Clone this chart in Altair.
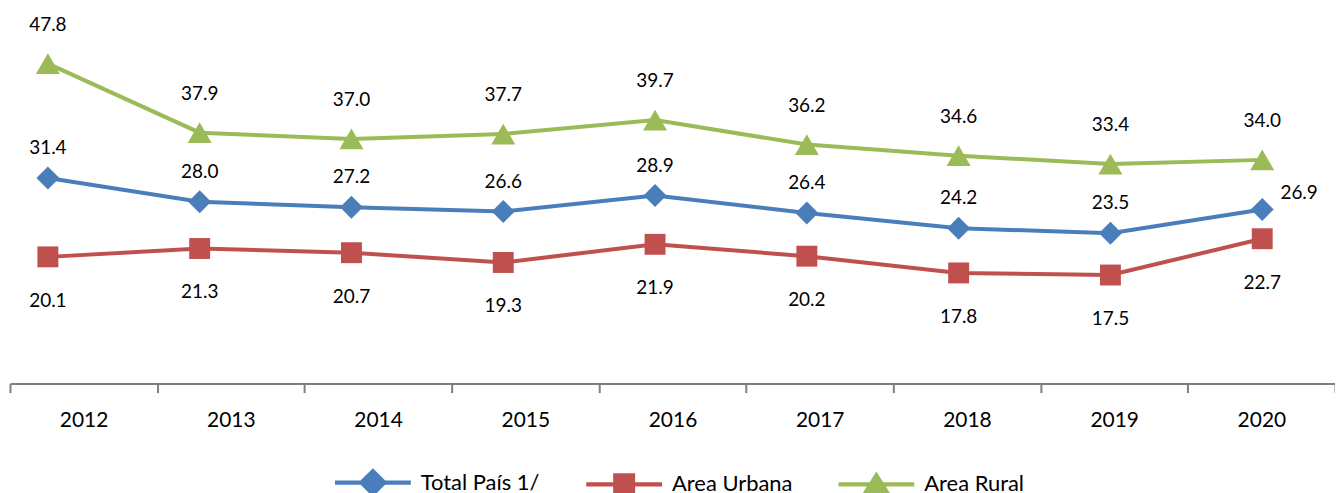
import altair as alt
import pandas as pd

years = ["2012", "2013", "2014", "2015", "2016", "2017", "2018", "2019", "2020"]
total = [31.4, 28.0, 27.2, 26.6, 28.9, 26.4, 24.2, 23.5, 26.9]
urbana = [20.1, 21.3, 20.7, 19.3, 21.9, 20.2, 17.8, 17.5, 22.7]
rural = [47.8, 37.9, 37.0, 37.7, 39.7, 36.2, 34.6, 33.4, 34.0]

series = ["Total País 1/", "Area Urbana", "Area Rural"]
colors = ["#4A7EBB", "#C0504D", "#9BBB59"]
shapes = ["diamond", "square", "triangle-up"]
legend_shapes = [
    "M-1,-0.055L1,-0.055L1,0.055L-1,0.055Z M0,-0.38L0.38,0L0,0.38L-0.38,0Z",
    "M-1,-0.055L1,-0.055L1,0.055L-1,0.055Z M-0.29,-0.29L0.29,-0.29L0.29,0.29L-0.29,0.29Z",
    "M-1,-0.055L1,-0.055L1,0.055L-1,0.055Z M0,-0.34L0.38,0.26L-0.38,0.26Z",
]

rows = []
for s, vals in zip(series, [total, urbana, rural]):
    for y, v in zip(years, vals):
        rows.append({"anio": y, "serie": s, "valor": v})
df = pd.DataFrame(rows)

base = alt.Chart(df)
FONT = "Lato"

x_pt = alt.X("anio:O", scale=alt.Scale(type="point", domain=years, range=[38, 1256], padding=0), axis=None)
y_enc = alt.Y("valor:Q", scale=alt.Scale(domain=[1.94, 55.37], nice=False, zero=False), axis=None)
color_enc = alt.Color("serie:N", scale=alt.Scale(domain=series, range=colors), legend=None)

axis_layer = base.transform_filter("datum.valor < -1000").mark_point(opacity=0).encode(
    x=alt.X("anio:O", scale=alt.Scale(type="band", domain=years, paddingInner=0, paddingOuter=0),
            axis=alt.Axis(title=None, labelAngle=0, tickBand="extent", domainColor="#7f7f7f",
                          tickColor="#7f7f7f", domainWidth=2, tickWidth=2, tickSize=9,
                          labelFont=FONT, labelFontSize=21, labelColor="#000000",
                          labelBaseline="middle", labelPadding=28, grid=False)),
    y=y_enc,
)

lines = base.mark_line(strokeWidth=4).encode(x=x_pt, y=y_enc, color=color_enc, detail="serie:N")

point_layers = []
for s, sh, sz in zip(series, shapes, [530, 440, 580]):
    point_layers.append(
        base.transform_filter(alt.datum.serie == s).mark_point(
            shape=sh, size=sz, filled=True, opacity=1, strokeWidth=0
        ).encode(x=x_pt, y=y_enc, color=color_enc)
    )

txt_kw = dict(font=FONT, fontSize=19, color="#000000", baseline="middle", align="center")
t_total = base.transform_filter((alt.datum.serie == series[0]) & (alt.datum.anio != "2020")).mark_text(dy=-30, **txt_kw).encode(
    x=x_pt, y=y_enc, text=alt.Text("valor:Q", format=".1f"))
t_total_last = base.transform_filter((alt.datum.serie == series[0]) & (alt.datum.anio == "2020")).mark_text(dx=37, dy=-16, **txt_kw).encode(
    x=x_pt, y=y_enc, text=alt.Text("valor:Q", format=".1f"))
t_urb = base.transform_filter(alt.datum.serie == series[1]).mark_text(dy=44, **txt_kw).encode(
    x=x_pt, y=y_enc, text=alt.Text("valor:Q", format=".1f"))
t_rur = base.transform_filter(alt.datum.serie == series[2]).mark_text(dy=-39, **txt_kw).encode(
    x=x_pt, y=y_enc, text=alt.Text("valor:Q", format=".1f"))

leg = alt.Legend(title=None, orient="none", legendX=326, legendY=435,
                 direction="horizontal", labelFont=FONT, labelFontSize=22,
                 labelColor="#000000", labelOffset=10, columnPadding=46,
                 symbolSize=5776, symbolStrokeWidth=0, padding=0)

legend_layer = base.mark_point(filled=True, opacity=1, size=5776, strokeWidth=0).encode(
    x=x_pt, y=y_enc,
    color=alt.Color("serie:N", scale=alt.Scale(domain=series, range=colors), legend=leg),
    shape=alt.Shape("serie:N", scale=alt.Scale(domain=series, range=legend_shapes), legend=leg),
).transform_filter("datum.valor < -1000")

chart = alt.layer(axis_layer, lines, *point_layers, t_total, t_total_last, t_urb, t_rur, legend_layer).resolve_scale(
    x="independent", color="independent", shape="independent"
).properties(
    width=1329, height=374,
    autosize=alt.AutoSizeParams(type="none"),
    padding={"left": 2, "top": 2, "right": 0, "bottom": 120},
).configure_view(stroke=None)

chart.save("out.html", embed_options={"renderer": "svg", "actions": False})
